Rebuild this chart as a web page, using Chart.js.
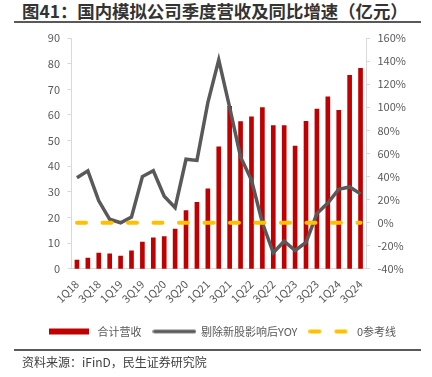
<!DOCTYPE html>
<html>
<head>
<meta charset="utf-8">
<script src="https://cdn.jsdelivr.net/npm/chart.js@4"></script>
<style>
  body { margin: 0; width: 432px; height: 377px; background: #fff; position: relative; overflow: hidden; font-family: "Noto Sans CJK SC", sans-serif; }
  #title { position: absolute; left: 22px; top: 0px; font-size: 17.4px; font-weight: bold; color: #333; line-height: 22px; white-space: nowrap; }
  #rule1 { position: absolute; left: 14px; top: 21px; width: 407px; height: 1.5px; background: #595959; }
  #rule2 { position: absolute; left: 14px; top: 349px; width: 407px; height: 1.5px; background: #595959; }
  #source { position: absolute; left: 22px; top: 353px; font-size: 12px; color: #404040; line-height: 18px; white-space: nowrap; }
  #wrap { position: absolute; left: 0; top: 0; width: 432px; height: 377px; }
</style>
</head>
<body>
<div id="title">图41：国内模拟公司季度营收及同比增速（亿元）</div>
<div id="rule1"></div>
<div id="wrap"><canvas id="myChart"></canvas></div>
<div id="rule2"></div>
<div id="source">资料来源：iFinD，民生证券研究院</div>
<script>
// quarters 1Q18 .. 3Q24
let quarters = ["1Q18", "2Q18", "3Q18", "4Q18", "1Q19", "2Q19", "3Q19", "4Q19",
    "1Q20", "2Q20", "3Q20", "4Q20", "1Q21", "2Q21", "3Q21", "4Q21",
    "1Q22", "2Q22", "3Q22", "4Q22", "1Q23", "2Q23", "3Q23", "4Q23",
    "1Q24", "2Q24", "3Q24"];

// 合计营收 (亿元), left axis
let revenue = [3.5, 4.2, 6.2, 5.9, 5.0, 7.1, 10.5, 12.1, 12.6, 15.5, 22.7, 26.0, 31.2, 47.6,
    63.4, 57.4, 59.3, 62.9, 55.9, 55.9, 47.9, 57.5, 62.3, 67.1, 61.8, 75.5, 78.2];

// 剔除新股影响后YOY (%), right axis
let yoy = [39, 45, 19, 3, 0, 5, 40, 45, 23, 13, 55, 54, 104, 141,
    100, 57, 37, 0, -26, -16, -24, -17, 8, 17, 29, 31, 25];

// 0参考线
let zeroLine = quarters.map(q => 0);

let leftTicks = { min: 0, max: 90, step: 10 };
let rightTicks = { min: -40, max: 160, step: 20 };

Chart.defaults.font.family = '"Noto Sans CJK SC", sans-serif';
Chart.defaults.font.size = 11;
Chart.defaults.color = "#595959";

// little pictures for the legend markers
function legendMark(kind) {
    let c = document.createElement("canvas");
    c.width = 44;
    c.height = 8;
    let g = c.getContext("2d");
    if (kind === "bar") {
        g.fillStyle = "#C00000";
        g.fillRect(0, 1, 40, 6);
    } else if (kind === "line") {
        g.strokeStyle = "#595959";
        g.lineWidth = 3.5;
        g.lineCap = "round";
        g.beginPath();
        g.moveTo(2, 4);
        g.lineTo(42, 4);
        g.stroke();
    } else {
        g.strokeStyle = "#FFC000";
        g.lineWidth = 4;
        g.lineCap = "round";
        g.beginPath();
        g.moveTo(2, 4); g.lineTo(11, 4);
        g.moveTo(28, 4); g.lineTo(37, 4);
        g.stroke();
    }
    return c;
}

let marks = [legendMark("bar"), legendMark("line"), legendMark("dash")];

new Chart("myChart", {
    type: "bar",
    data: {
        labels: quarters,
        datasets: [{
            label: "合计营收",
            data: revenue,
            backgroundColor: "#C00000",
            barThickness: 4,
            yAxisID: "y",
            order: 3
        }, {
            type: "line",
            label: "剔除新股影响后YOY",
            data: yoy,
            borderColor: "#595959",
            borderWidth: 3.5,
            pointRadius: 0,
            tension: 0,
            yAxisID: "y1",
            order: 2
        }, {
            type: "line",
            label: "0参考线",
            data: zeroLine,
            borderColor: "#FFC000",
            borderWidth: 4,
            borderDash: [9, 16.5],
            borderCapStyle: "round",
            pointRadius: 0,
            yAxisID: "y1",
            order: 1
        }]
    },
    options: {
        responsive: true,
        maintainAspectRatio: false,
        animation: false,
        layout: { padding: { top: 38, left: 14, right: 0, bottom: 30 } },
        plugins: {
            tooltip: { enabled: false },
            legend: {
                position: "bottom",
                labels: {
                    usePointStyle: true,
                    pointStyleWidth: 42,
                    padding: 12,
                    color: "#595959",
                    font: { size: 11 },
                    generateLabels: function (chart) {
                        return chart.data.datasets.map((ds, i) => ({
                            text: ds.label,
                            pointStyle: marks[i],
                            fillStyle: "transparent",
                            strokeStyle: "transparent",
                            lineWidth: 0,
                            fontColor: "#595959",
                            datasetIndex: i
                        }));
                    }
                }
            }
        },
        scales: {
            x: {
                grid: { display: false, drawTicks: false },
                border: { display: true, color: "#D9D9D9", width: 1 },
                ticks: {
                    autoSkip: false,
                    maxRotation: 45,
                    minRotation: 45,
                    padding: 8.5,
                    callback: function (val, index) {
                        return index % 2 === 0 ? quarters[index] : "";
                    }
                }
            },
            y: {
                position: "left",
                min: leftTicks.min,
                max: leftTicks.max,
                ticks: { stepSize: leftTicks.step, padding: 7.5 },
                grid: { drawOnChartArea: false, drawTicks: true, tickLength: 4, color: "#D9D9D9" },
                border: { display: true, color: "#D9D9D9" },
                afterFit: function (scale) { scale.width = 57.5; }
            },
            y1: {
                position: "right",
                min: rightTicks.min,
                max: rightTicks.max,
                ticks: {
                    stepSize: rightTicks.step,
                    padding: 7.5,
                    callback: function (v) { return v + "%"; }
                },
                grid: { drawOnChartArea: false, drawTicks: true, tickLength: 4, color: "#D9D9D9" },
                border: { display: true, color: "#D9D9D9" },
                afterFit: function (scale) { scale.width = 66; }
            }
        }
    }
});
</script>
</body>
</html>
